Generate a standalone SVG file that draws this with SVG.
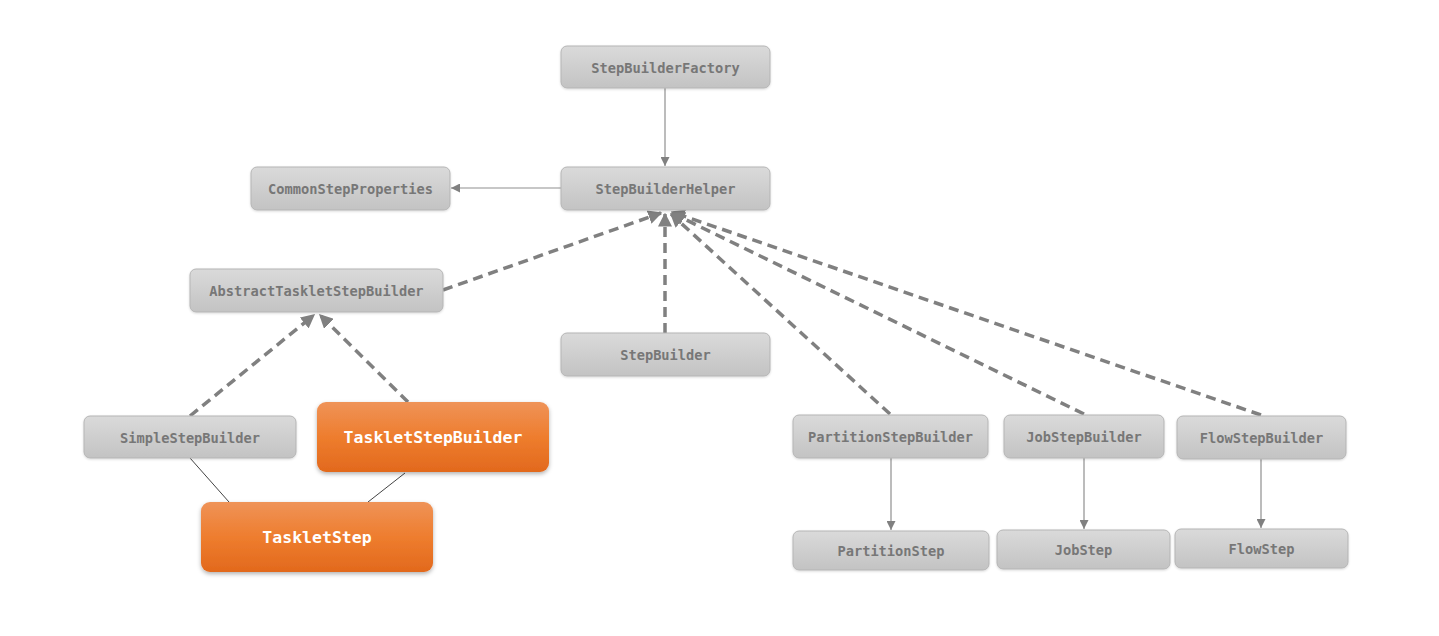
<svg xmlns="http://www.w3.org/2000/svg" width="1439" height="636" viewBox="0 0 1439 636">
<defs>
<linearGradient id="gGray" x1="0" y1="0" x2="0" y2="1">
<stop offset="0" stop-color="#dadada"/>
<stop offset="1" stop-color="#c3c3c3"/>
</linearGradient>
<linearGradient id="gOrange" x1="0" y1="0" x2="0" y2="1">
<stop offset="0" stop-color="#ef9358"/>
<stop offset="0.5" stop-color="#ee7d2e"/>
<stop offset="1" stop-color="#e2691d"/>
</linearGradient>
<filter id="shGray" x="-10%" y="-20%" width="120%" height="150%">
<feDropShadow dx="0" dy="1" stdDeviation="1" flood-color="#000" flood-opacity="0.15"/>
</filter>
<filter id="shOrange" x="-10%" y="-20%" width="120%" height="150%">
<feDropShadow dx="0" dy="2" stdDeviation="2" flood-color="#000" flood-opacity="0.3"/>
</filter>
<marker id="aThin" viewBox="0 0 10 10" refX="10" refY="5" markerWidth="9" markerHeight="9" markerUnits="userSpaceOnUse" orient="auto">
<path d="M0,0 L10,5 L0,10 z" fill="#808080"/>
</marker>
<marker id="aDash" viewBox="0 0 10 10" refX="9" refY="5" markerWidth="4" markerHeight="4" orient="auto">
<path d="M0,0 L10,5 L0,10 z" fill="#808080"/>
</marker>
</defs>
<style>
.g rect{fill:url(#gGray);stroke:#b5b5b5;stroke-width:1;filter:url(#shGray)}
.o rect{fill:url(#gOrange);stroke:none;filter:url(#shOrange)}
.g text{font-family:"DejaVu Sans Mono","Liberation Mono",monospace;font-weight:bold;font-size:13.7px;fill:#777777;text-anchor:middle;dominant-baseline:central}
.o text{font-family:"DejaVu Sans Mono","Liberation Mono",monospace;font-weight:bold;font-size:16.5px;fill:#ffffff;text-anchor:middle;dominant-baseline:central}
.thin{stroke:#8f8f8f;stroke-width:1.2;fill:none;marker-end:url(#aThin)}
.dash{stroke:#808080;stroke-width:3.5;stroke-dasharray:10,6;fill:none;marker-end:url(#aDash)}
.plain{stroke:#444;stroke-width:1;fill:none}
</style>
<rect width="1439" height="636" fill="#ffffff"/>
<g id="connectors">
<line class="thin" x1="665" y1="88" x2="665" y2="166"/>
<line class="thin" x1="561" y1="188" x2="451" y2="188"/>
<line class="dash" x1="443" y1="290" x2="661" y2="213"/>
<line class="dash" x1="665" y1="333" x2="665" y2="214"/>
<line class="dash" x1="890" y1="414" x2="671" y2="214"/>
<line class="dash" x1="1084" y1="414" x2="672" y2="213"/>
<line class="dash" x1="1261" y1="415" x2="672" y2="212"/>
<line class="dash" x1="190" y1="416" x2="314" y2="315"/>
<line class="dash" x1="408" y1="402" x2="320" y2="315"/>
<line class="plain" x1="190" y1="458" x2="229" y2="502"/>
<line class="plain" x1="405" y1="473" x2="368" y2="502"/>
<line class="thin" x1="891" y1="458" x2="891" y2="530"/>
<line class="thin" x1="1084" y1="458" x2="1084" y2="529"/>
<line class="thin" x1="1261" y1="459" x2="1261" y2="528"/>
</g>
<g id="StepBuilderFactory" class="g"><rect x="561" y="46" width="209" height="42" rx="6"/><text x="665.5" y="67.5">StepBuilderFactory</text></g>
<g id="StepBuilderHelper" class="g"><rect x="561" y="167" width="209" height="43" rx="6"/><text x="665.5" y="189">StepBuilderHelper</text></g>
<g id="CommonStepProperties" class="g"><rect x="251" y="167" width="199" height="43" rx="6"/><text x="350.5" y="189">CommonStepProperties</text></g>
<g id="AbstractTaskletStepBuilder" class="g"><rect x="190" y="269" width="253" height="43" rx="6"/><text x="316.5" y="291">AbstractTaskletStepBuilder</text></g>
<g id="StepBuilder" class="g"><rect x="561" y="333" width="209" height="43" rx="6"/><text x="665.5" y="355">StepBuilder</text></g>
<g id="SimpleStepBuilder" class="g"><rect x="84" y="416" width="212" height="42" rx="6"/><text x="190" y="437.5">SimpleStepBuilder</text></g>
<g id="TaskletStepBuilder" class="o"><rect x="317" y="402" width="232" height="70" rx="9"/><text x="433" y="437">TaskletStepBuilder</text></g>
<g id="TaskletStep" class="o"><rect x="201" y="502" width="232" height="70" rx="9"/><text x="317" y="537">TaskletStep</text></g>
<g id="PartitionStepBuilder" class="g"><rect x="793" y="415" width="195" height="43" rx="6"/><text x="890.5" y="437">PartitionStepBuilder</text></g>
<g id="JobStepBuilder" class="g"><rect x="1004" y="415" width="160" height="43" rx="6"/><text x="1084" y="437">JobStepBuilder</text></g>
<g id="FlowStepBuilder" class="g"><rect x="1177" y="416" width="169" height="43" rx="6"/><text x="1261.5" y="438">FlowStepBuilder</text></g>
<g id="PartitionStep" class="g"><rect x="793" y="531" width="196" height="39" rx="6"/><text x="891" y="551">PartitionStep</text></g>
<g id="JobStep" class="g"><rect x="997" y="530" width="173" height="39" rx="6"/><text x="1083.5" y="550">JobStep</text></g>
<g id="FlowStep" class="g"><rect x="1175" y="529" width="173" height="39" rx="6"/><text x="1261.5" y="549">FlowStep</text></g>
</svg>
